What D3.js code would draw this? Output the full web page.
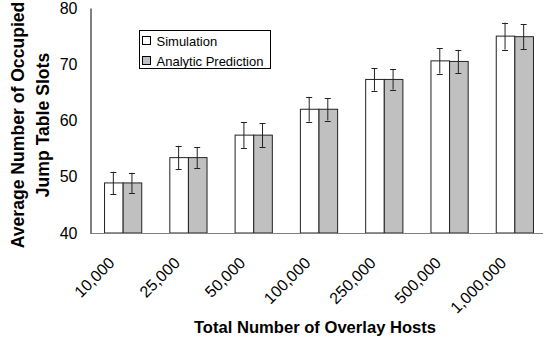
<!DOCTYPE html>
<html>
<head>
<meta charset="utf-8">
<script src="https://cdn.jsdelivr.net/npm/d3@7"></script>
<style>
  body { margin: 0; background: #fff; }
  svg { display: block; font-family: Arial, "Liberation Sans", sans-serif; }
</style>
</head>
<body>
<div id="chart"></div>
<script>
'use strict';

// values
var hosts = ["10,000", "25,000", "50,000", "100,000", "250,000", "500,000", "1,000,000"];
var simulation = [48.9, 53.4, 57.4, 62.0, 67.3, 70.6, 75.0];
var simErr = [2.0, 2.1, 2.3, 2.2, 2.0, 2.25, 2.4];
var prediction = [48.9, 53.4, 57.4, 62.0, 67.3, 70.5, 74.9];
var predErr = [1.8, 1.9, 2.1, 2.0, 1.8, 2.05, 2.2];
var seriesNames = ["Simulation", "Analytic Prediction"];
var seriesColors = ["#ffffff", "#c0c0c0"];
var yTicks = [40, 50, 60, 70, 80];

drawChart();

function drawChart() {

    var svgWidth = 543;
    var svgHeight = 347;

    var svg = d3.select("#chart")
        .append("svg")
        .attr("width", svgWidth)
        .attr("height", svgHeight);

    var x = d3.scaleBand()
        .domain(hosts)
        .range([90, 547])
        .paddingInner(0.43)
        .paddingOuter(0.215);

    var xSeries = d3.scaleBand()
        .domain(seriesNames)
        .range([0, x.bandwidth()]);

    var y = d3.scaleLinear()
        .domain([40, 80])
        .range([233, 8]);

    // rows: one per category, both series
    var rows = hosts.map(function (h, i) {
        return [
            { host: h, name: seriesNames[0], value: simulation[i], err: simErr[i], color: seriesColors[0] },
            { host: h, name: seriesNames[1], value: prediction[i], err: predErr[i], color: seriesColors[1] }
        ];
    });

    var groups = svg.selectAll("g.group")
        .data(rows)
        .enter().append("g")
        .attr("class", "group")
        .attr("transform", function (d) { return "translate(" + x(d[0].host) + ",0)"; });

    groups.selectAll("rect")
        .data(function (d) { return d; })
        .enter().append("rect")
        .attr("x", function (d) { return xSeries(d.name) + 0.5; })
        .attr("y", function (d) { return y(d.value); })
        .attr("width", xSeries.bandwidth())
        .attr("height", function (d) { return y(40) - y(d.value); })
        .style("fill", function (d) { return d.color; })
        .style("stroke", "#222")
        .style("stroke-width", 1);

    // error bars
    var err = groups.selectAll("g.err")
        .data(function (d) { return d; })
        .enter().append("g")
        .attr("class", "err")
        .style("stroke", "#222")
        .style("stroke-width", 1);

    err.append("line")
        .attr("x1", function (d) { return xSeries(d.name) + xSeries.bandwidth() / 2; })
        .attr("x2", function (d) { return xSeries(d.name) + xSeries.bandwidth() / 2; })
        .attr("y1", function (d) { return y(d.value + d.err); })
        .attr("y2", function (d) { return y(d.value - d.err); });

    [1, -1].forEach(function (s) {
        err.append("line")
            .attr("x1", function (d) { return xSeries(d.name) + xSeries.bandwidth() / 2 - 3; })
            .attr("x2", function (d) { return xSeries(d.name) + xSeries.bandwidth() / 2 + 3; })
            .attr("y1", function (d) { return Math.round(y(d.value + s * d.err)) + 0.5; })
            .attr("y2", function (d) { return Math.round(y(d.value + s * d.err)) + 0.5; });
    });

    // y axis
    var yAxis = svg.append("g")
        .attr("transform", "translate(90.5,0)")
        .call(d3.axisLeft(y).tickValues(yTicks).tickSize(0).tickPadding(13));
    yAxis.select(".domain").style("stroke", "#000");
    yAxis.selectAll("text")
        .style("font-size", "16px")
        .style("fill", "#000")
        .style("font-family", "Arial, 'Liberation Sans', sans-serif");

    // x axis line
    svg.append("line")
        .attr("x1", 90)
        .attr("x2", svgWidth)
        .attr("y1", 233.5)
        .attr("y2", 233.5)
        .style("stroke", "#808080")
        .style("stroke-width", 1.2);

    // rotated category labels
    svg.selectAll("text.xlabel")
        .data(hosts)
        .enter().append("text")
        .attr("class", "xlabel")
        .attr("text-anchor", "end")
        .attr("transform", function (d) {
            return "translate(" + (x(d) + x.bandwidth() / 2 - 7) + ",264) rotate(-45)";
        })
        .style("font-size", "16px")
        .text(function (d) { return d; });

    // axis titles
    svg.append("text")
        .attr("x", 315)
        .attr("y", 333)
        .attr("text-anchor", "middle")
        .style("font-size", "16.6px")
        .style("font-weight", "bold")
        .text("Total Number of Overlay Hosts");

    var yTitle = svg.append("text")
        .attr("transform", "translate(24,125) rotate(-90)")
        .attr("text-anchor", "middle")
        .style("font-size", "17.6px")
        .style("font-weight", "bold");
    yTitle.append("tspan").attr("x", 0).attr("y", 0).text("Average Number of Occupied");
    yTitle.append("tspan").attr("x", 0).attr("y", 25).text("Jump Table Slots");

    // legend
    var legend = svg.append("g");
    legend.append("rect")
        .attr("x", 139.5)
        .attr("y", 30.5)
        .attr("width", 131)
        .attr("height", 38)
        .style("fill", "#fff")
        .style("stroke", "#000")
        .style("stroke-width", 1);

    var items = legend.selectAll("g.item")
        .data(seriesNames)
        .enter().append("g")
        .attr("class", "item")
        .attr("transform", function (d, i) { return "translate(142.5," + (36.5 + i * 20) + ")"; });

    items.append("rect")
        .attr("width", 8)
        .attr("height", 8)
        .style("fill", function (d, i) { return seriesColors[i]; })
        .style("stroke", "#000");

    items.append("text")
        .attr("x", 14)
        .attr("y", 9)
        .style("font-size", "13px")
        .text(function (d) { return d; });
}
</script>
</body>
</html>
